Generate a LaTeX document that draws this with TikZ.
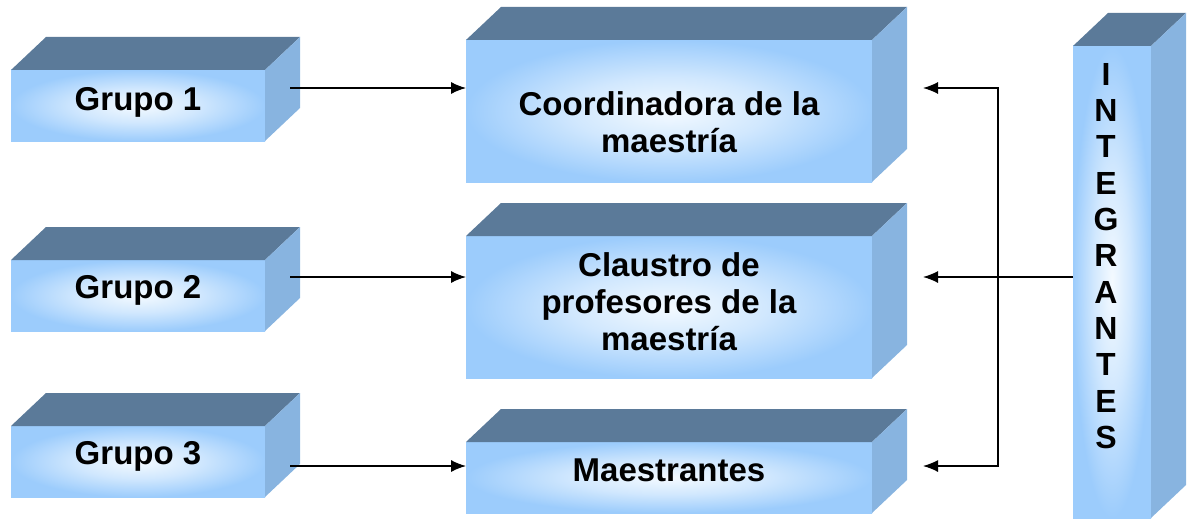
\documentclass[tikz,border=0pt]{standalone}
\usepackage{fontspec}
\setmainfont{Liberation Sans}
\usetikzlibrary{arrows.meta,positioning}
\definecolor{tapa}{HTML}{5B7A99}
\definecolor{lado}{HTML}{88B4E0}
\definecolor{frenteout}{HTML}{9CCCFC}
\definecolor{frentein}{HTML}{F4FAFF}
\pgfdeclareradialshading{frente}{\pgfpoint{0bp}{0bp}}{color(0bp)=(frentein); color(12bp)=(frentein!60!frenteout); color(25bp)=(frenteout); color(50bp)=(frenteout)}

\begin{document}
\begin{tikzpicture}[
        x=1pt, y=-1pt,
        font=\bfseries\fontsize{33}{37}\selectfont,
        caja/.style={shading=frente, inner sep=0pt, outer sep=0pt},
        texto/.style={align=center, inner sep=0pt},
        flecha/.style={line width=1.3pt, -{Latex[length=15pt,width=12pt]}},
    ]
    \useasboundingbox (0,0) rectangle (1194,519);
    % frentes
    \node[caja, minimum width=254pt, minimum height=71pt] (g1) at (138,105.5) {};
    \node[caja, minimum width=254pt, minimum height=71pt] (g2) at (138,295.5) {};
    \node[caja, minimum width=254pt, minimum height=71pt] (g3) at (138,461.5) {};
    \node[caja, minimum width=406pt, minimum height=142pt] (coord) at (669,111) {};
    \node[caja, minimum width=406pt, minimum height=142pt] (claus) at (669,307) {};
    \node[caja, minimum width=406pt, minimum height=71pt] (maes) at (669,477.5) {};
    \node[caja, minimum width=78pt, minimum height=472pt] (integ) at (1112,282) {};
    % textos
    \node[texto] (g1txt) at ([yshift=3pt]g1.center) {Grupo 1};
    \node[texto] (g2txt) at ([yshift=5pt]g2.center) {Grupo 2};
    \node[texto] (g3txt) at ([yshift=5pt]g3.center) {Grupo 3};
    \node[texto] (coordtxt) at ([yshift=-11pt]coord.center) {Coordinadora de la\\maestría};
    \node[texto] (claustxt) at ([yshift=5pt]claus.center) {Claustro de\\profesores de la\\maestría};
    \node[texto] (maestxt) at ([yshift=7pt]maes.center) {Maestrantes};
    \node[texto, font=\bfseries\fontsize{32}{36.3}\selectfont] (integtxt) at (1106,256)
        {I\\N\\T\\E\\G\\R\\A\\N\\T\\E\\S};
    % tapas y lados
    \foreach \c in {g1,g2,g3,coord,claus,maes,integ} {
        \fill[tapa] (\c.north west) -- ++(35,-33) -- ([shift={(35,-33)}]\c.north east) -- (\c.north east) -- cycle;
        \fill[lado] (\c.north east) -- ++(35,-33) -- ([shift={(35,-33)}]\c.south east) -- (\c.south east) -- cycle;
    }
    % flechas
    \coordinate (f1) at (0,88);
    \coordinate (f2) at (0,277);
    \coordinate (f3) at (0,466);
    \coordinate (bus) at ([xshift=126pt]coord.east);
    \coordinate (tip) at ([xshift=51pt]coord.east);
    \draw[flecha] ([xshift=25pt]g1.east |- f1) -- (coord.west |- f1);
    \draw[flecha] ([xshift=25pt]g2.east |- f2) -- (claus.west |- f2);
    \draw[flecha] ([xshift=25pt]g3.east |- f3) -- (maes.west |- f3);
    \draw[flecha] (integ.west |- f2) -- (tip |- f2);
    \draw[flecha] (bus |- f2) |- (tip |- f1);
    \draw[flecha] (bus |- f2) |- (tip |- f3);
\end{tikzpicture}
\end{document}
